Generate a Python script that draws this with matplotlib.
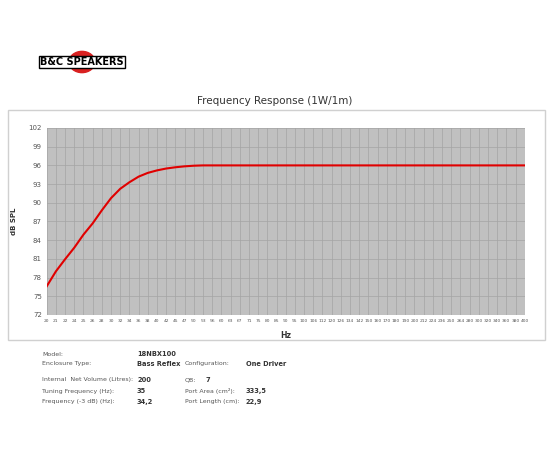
import numpy as np
import matplotlib.pyplot as plt
from matplotlib.patches import Rectangle, Circle

freq_labels = ["20", "21", "22", "24", "25", "26", "28", "30", "32", "34", "36", "38", "40",
               "42", "45", "47", "50", "53", "56", "60", "63", "67", "71", "75", "80", "85",
               "90", "95", "100", "106", "112", "120", "126", "134", "142", "150", "160",
               "170", "180", "190", "200", "212", "224", "236", "250", "264", "280", "300",
               "320", "340", "360", "380", "400"]
spl_start = [76.6, 79.0, 80.95, 82.8, 84.9, 86.7, 88.8, 90.75, 92.25, 93.3, 94.2, 94.8,
             95.2, 95.5, 95.7, 95.85, 95.95]
spl = spl_start + [96.0] * (len(freq_labels) - len(spl_start))

info_left = [("Model:", "18NBX100"), ("Enclosure Type:", "Bass Reflex"), None,
             ("Internal  Net Volume (Litres):", "200"), ("Tuning Frequency (Hz):", "35"),
             ("Frequency (-3 dB) (Hz):", "34,2")]
info_right = [None, ("Configuration:", "One Driver"), None,
              ("QB:", "7"), ("Port Area (cm²):", "333,5"), ("Port Length (cm):", "22,9")]

fig = plt.figure(figsize=(5.5, 4.5), dpi=100)

# frame around the chart
fig.patches.append(Rectangle((8 / 550, 1 - 340 / 450), 537 / 550, 230 / 450,
                             transform=fig.transFigure, fill=False, ec="#d0d0d0", lw=1))

# logo
fig.patches.append(Circle((82 / 550, 1 - 62 / 450), 13 / 550, transform=fig.transFigure,
                          color="#d92020", zorder=1))
fig.text(82 / 550, 1 - 62 / 450, "B&C SPEAKERS", ha="center", va="center", fontsize=7,
         weight="bold", color="black", zorder=3,
         bbox=dict(boxstyle="square,pad=0.15", fc="white", ec="black", lw=1))

fig.text(0.5, 1 - 101 / 450, "Frequency Response (1W/1m)", ha="center", va="center",
         fontsize=7.5, color="#333333")

ax = fig.add_axes([46.7 / 550, 1 - 315 / 450, 478 / 550, 187 / 450])
x = np.arange(len(freq_labels))
ax.set_facecolor("#c0c0c0")
ax.plot(x, spl, color="#e00000", lw=1.5)
ax.set_xlim(0, len(freq_labels) - 1)
ax.set_ylim(72, 102)
ax.set_yticks(np.arange(72, 103, 3))
ax.set_xticks(x)
ax.set_xticklabels(freq_labels, fontsize=3.2, color="#555555")
ax.tick_params(axis="y", labelsize=5, colors="#555555", length=0)
ax.tick_params(axis="x", length=0, pad=3)
ax.grid(True, color="#a4a4a4", lw=0.5)
for s in ax.spines.values():
    s.set_visible(False)
ax.set_xlabel("Hz", fontsize=5.5, weight="bold", color="#333333", labelpad=6)
ax.set_ylabel("dB SPL", fontsize=5, weight="bold", color="#333333", labelpad=8)

rows_y = [354, 364, None, 380, 391, 402]
for yy, l, r in zip(rows_y, info_left, info_right):
    if yy is None:
        continue
    if l:
        fig.text(42 / 550, 1 - yy / 450, l[0], fontsize=4.5, color="#555555", va="center")
        fig.text(137 / 550, 1 - yy / 450, l[1], fontsize=4.8, weight="bold", color="#333333", va="center")
    if r:
        fig.text(185 / 550, 1 - yy / 450, r[0], fontsize=4.5, color="#555555", va="center")
        fig.text(246 / 550 if r[0] != "QB:" else 206 / 550, 1 - yy / 450, r[1], fontsize=4.8,
                 weight="bold", color="#333333", va="center")

fig.savefig("out.png", dpi=100)
